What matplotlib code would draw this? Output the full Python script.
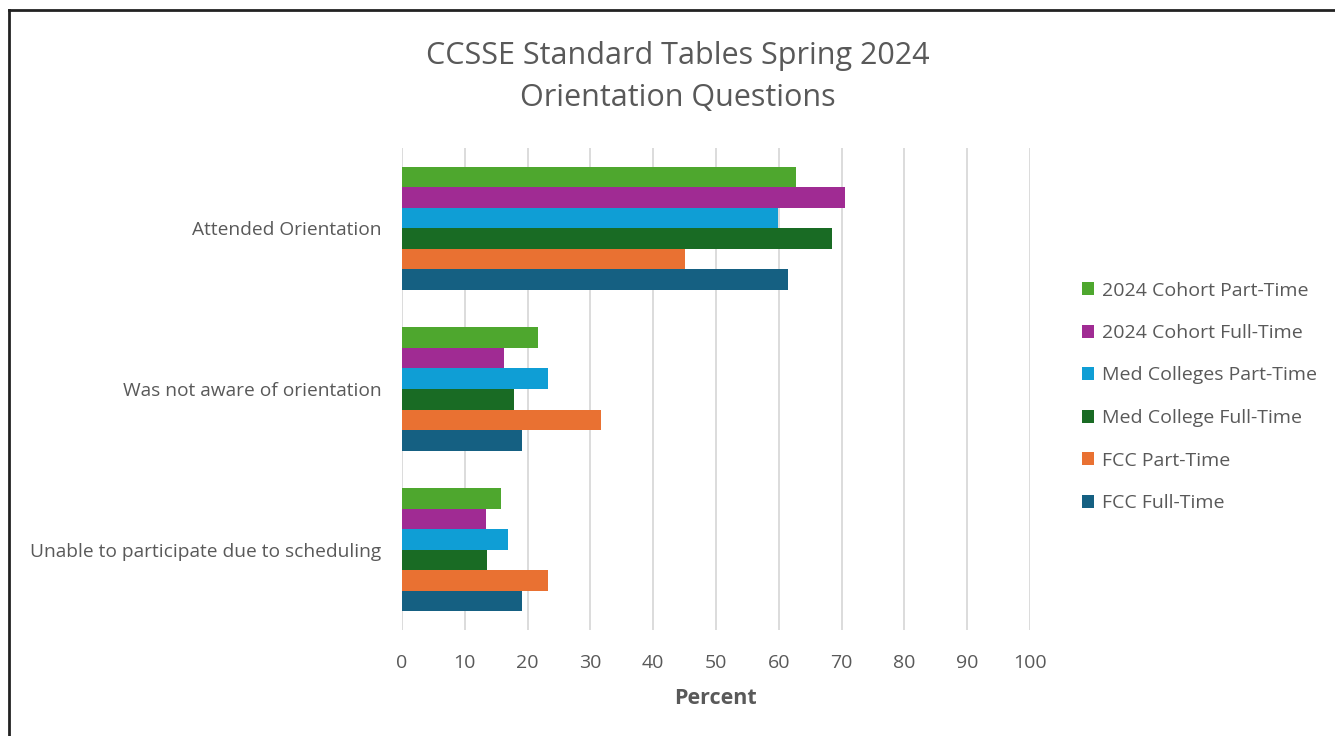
import matplotlib
matplotlib.use("Agg")
import matplotlib.pyplot as plt
import numpy as np
from matplotlib.lines import Line2D

plt.rcParams['font.family'] = ['Open Sans', 'DejaVu Sans']

categories = ["Attended Orientation", "Was not aware of orientation",
              "Unable to participate due to scheduling"]
series_names = ["2024 Cohort Part-Time", "2024 Cohort Full-Time",
                "Med Colleges Part-Time", "Med College Full-Time",
                "FCC Part-Time", "FCC Full-Time"]
cohort_pt = [62.7, 21.7, 15.7]
cohort_ft = [70.5, 16.2, 13.3]
med_pt = [59.8, 23.2, 16.9]
med_ft = [68.4, 17.9, 13.5]
fcc_pt = [45.0, 31.7, 23.2]
fcc_ft = [61.5, 19.1, 19.1]
series_values = [cohort_pt, cohort_ft, med_pt, med_ft, fcc_pt, fcc_ft]
colors = ["#4EA72E", "#A02B93", "#0F9ED5", "#196B24", "#E97132", "#156082"]
xticks = [0, 10, 20, 30, 40, 50, 60, 70, 80, 90, 100]

W, H = 1335, 736
fig = plt.figure(figsize=(W / 100, H / 100), dpi=100)
ax = fig.add_axes([402 / W, 1 - 630 / H, (1030 - 402) / W, (630 - 148) / H])

txt = "#595959"
n = len(series_values)
h = 0.766 / n
y = np.arange(len(categories))
for i, (vals, name, c) in enumerate(zip(series_values, series_names, colors)):
    ax.barh(y - 0.383 + (i + 0.5) * h, vals, height=h, color=c, label=name,
            linewidth=0, zorder=3)

ax.set_xlim(0, 100)
ax.set_ylim(2.5, -0.5)
ax.set_xticks(xticks)
ax.set_xticklabels([str(t) for t in xticks])
ax.set_yticks(y)
ax.set_yticklabels(categories)
ax.tick_params(axis='x', length=0, pad=17, labelsize=14, labelcolor=txt)
ax.tick_params(axis='y', length=0, pad=15, labelsize=13.8, labelcolor=txt)
ax.grid(axis='x', color="#D9D9D9", linewidth=1.3, zorder=0)
for s in ax.spines.values():
    s.set_visible(False)
ax.set_xlabel("Percent", fontsize=15.5, fontweight='bold', color=txt, labelpad=12)

fig.text(678 / W, 1 - 77 / H, "CCSSE Standard Tables Spring 2024\nOrientation Questions",
         ha='center', va='center', fontsize=22, color=txt, linespacing=1.5)

leg = fig.legend(loc='upper left', bbox_to_anchor=(1064 / W, 1 - 264 / H),
                 frameon=False, fontsize=14, handlelength=0.65, handleheight=0.65,
                 handletextpad=0.4, labelspacing=1.26, labelcolor=txt)

# frame (top and left edges visible)
fig.add_artist(Line2D([9 / W, 1.0], [1 - 10 / H, 1 - 10 / H], color='#222222',
                      linewidth=2, transform=fig.transFigure))
fig.add_artist(Line2D([9 / W, 9 / W], [0, 1 - 10 / H], color='#222222',
                      linewidth=2, transform=fig.transFigure))

fig.savefig("out.png", dpi=100, facecolor='white')
